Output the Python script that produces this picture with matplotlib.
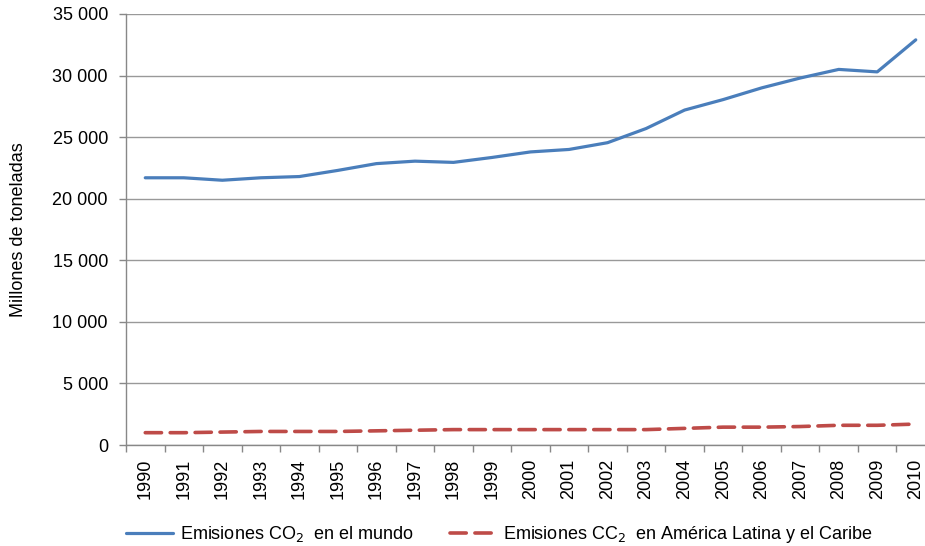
import matplotlib.pyplot as plt
from matplotlib.ticker import FuncFormatter, FixedLocator

plt.rcParams['font.family'] = ['Liberation Sans', 'DejaVu Sans']

years = [str(y) for y in range(1990, 2011)]
mundo = [21700, 21700, 21500, 21700, 21800, 22300, 22850, 23050, 22950, 23350,
         23800, 24000, 24550, 25700, 27200, 28050, 29000, 29800, 30500, 30300, 32900]
alc = [1000, 1000, 1050, 1100, 1100, 1100, 1150, 1200, 1250, 1250,
       1250, 1250, 1250, 1250, 1350, 1450, 1450, 1500, 1600, 1600, 1700]

fs = 13
fig = plt.figure(figsize=(9.25, 5.46), dpi=100)
ax = fig.add_axes([126 / 925, 1 - 445 / 546, 799 / 925, 431 / 546])

x = list(range(len(years)))
ax.plot(x, mundo, color='#4a7ebb', lw=2.3, solid_capstyle='round',
        label='Emisiones CO$_2$  en el mundo')
ax.plot(x, alc, color='#be4b48', lw=2.6, dashes=(4.5, 2.4), dash_capstyle='round',
        label='Emisiones CC$_2$  en América Latina y el Caribe')

ax.set_xlim(-0.5, 20.24)
ax.set_ylim(0, 35000)
ax.set_yticks(range(0, 35001, 5000))
ax.yaxis.set_major_formatter(FuncFormatter(lambda v, p: f'{int(v):,}'.replace(',', ' ')))
ax.set_xticks(x)
ax.set_xticklabels(years, rotation=90)
ax.xaxis.set_minor_locator(FixedLocator([i - 0.5 for i in range(len(years))]))
ax.tick_params(axis='x', which='major', length=0, pad=10, labelsize=fs)
ax.tick_params(axis='x', which='minor', length=5, color='#888888', width=1)
ax.tick_params(axis='y', length=5, color='#888888', width=1, labelsize=fs, pad=8)

ax.grid(axis='y', color='#999999', lw=1)
ax.set_axisbelow(True)
for s in ['top', 'right']:
    ax.spines[s].set_visible(False)
for s in ['left', 'bottom']:
    ax.spines[s].set_color('#888888')
    ax.spines[s].set_linewidth(1)

ax.set_ylabel('Millones de toneladas', fontsize=fs, labelpad=18)

fig.legend(loc='lower left', bbox_to_anchor=(110 / 925, -0.028), ncol=2, frameon=False,
           fontsize=fs, handlelength=2.6, handletextpad=0.35, columnspacing=2.0)

fig.savefig('out.png', dpi=100)
